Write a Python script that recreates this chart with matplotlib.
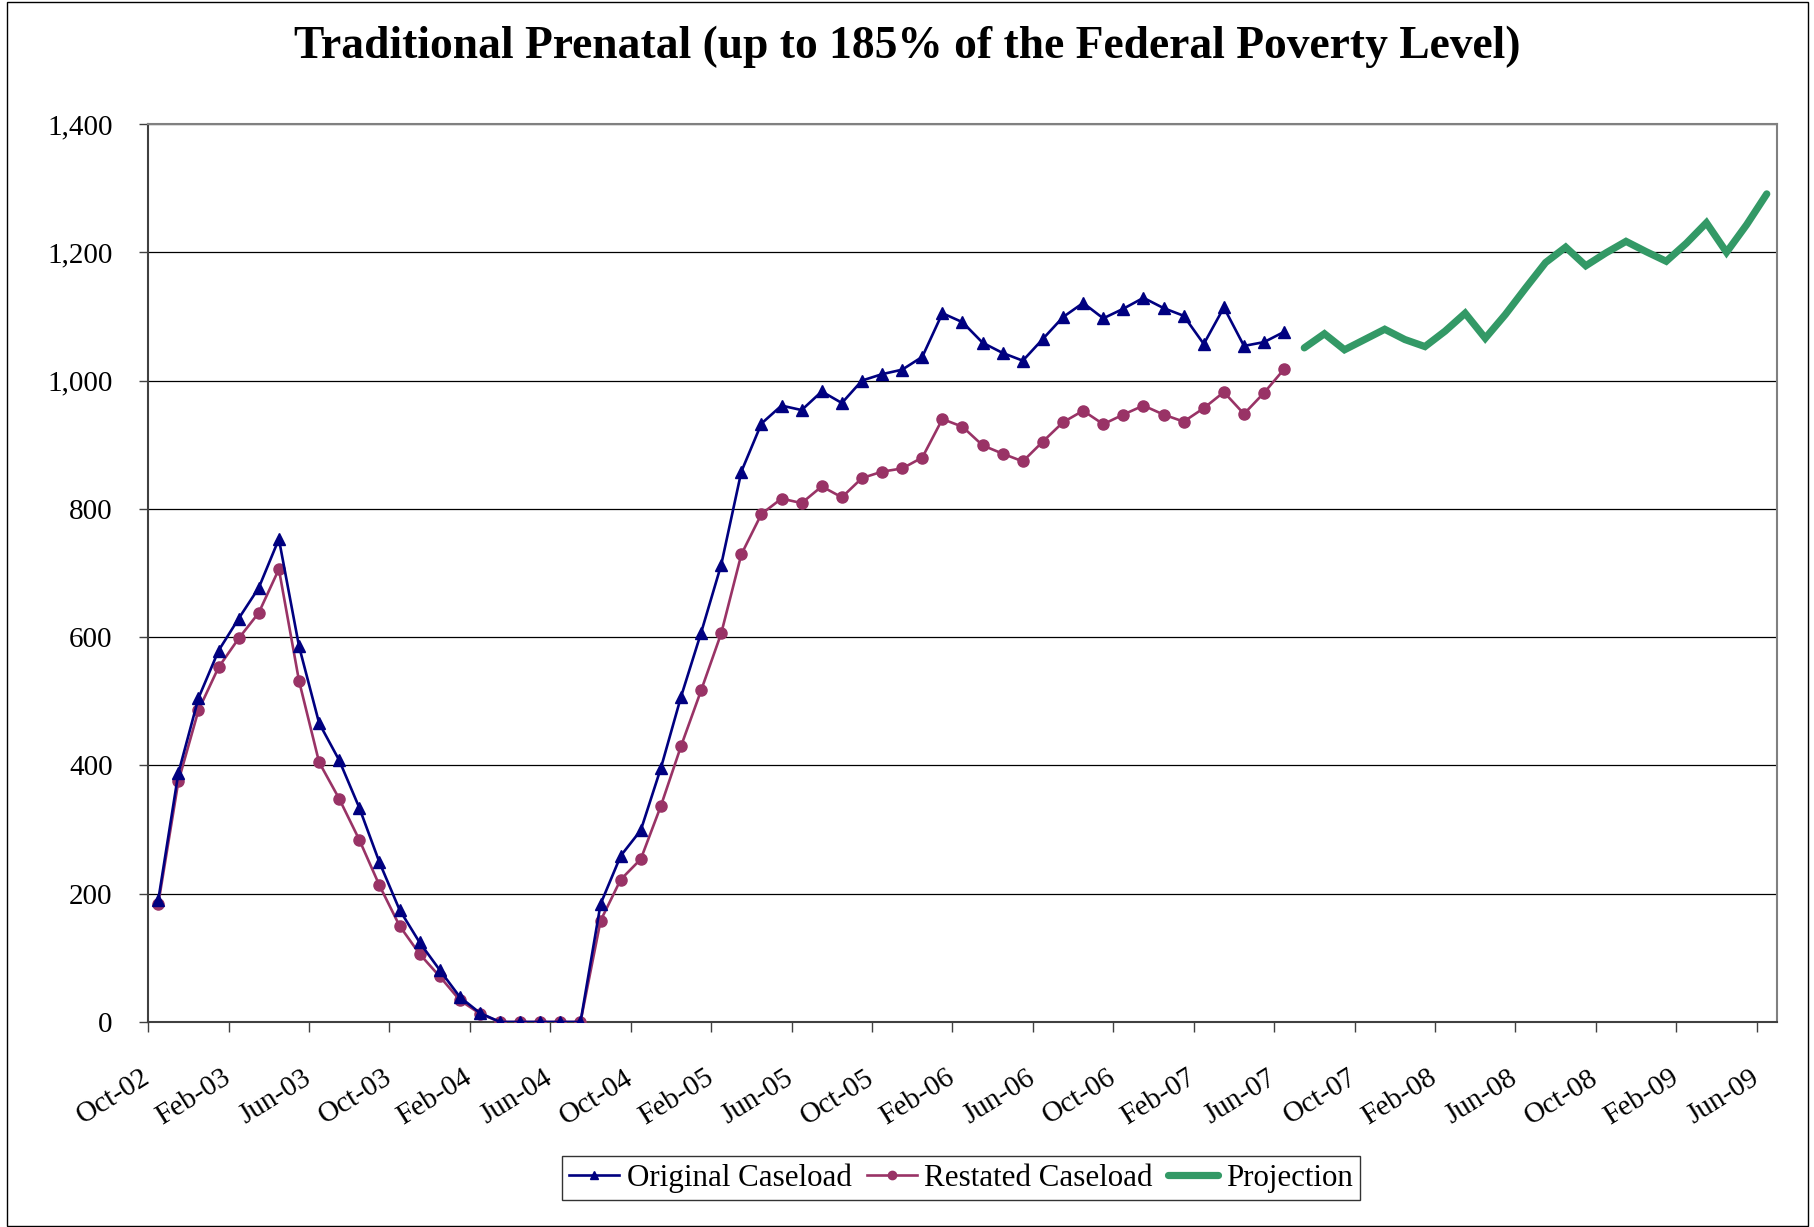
import matplotlib
matplotlib.use("Agg")
import matplotlib.pyplot as plt
import matplotlib.transforms as mtransforms
from matplotlib.patches import Rectangle
from matplotlib.ticker import FuncFormatter

# Monthly caseload, Oct-02 .. Jun-07
original = [190, 388, 505, 579, 629, 677, 753, 586, 466, 408, 334, 249, 175, 124, 81, 39, 14,
            0, 0, 0, 0, 0,
            184, 259, 299, 396, 507, 607, 713, 858, 933, 961, 954, 983, 965, 1000, 1010, 1017,
            1037, 1105, 1091, 1059, 1043, 1031, 1065, 1099, 1121, 1097, 1112, 1129, 1113, 1101,
            1057, 1114, 1054, 1060, 1076]
restated = [184, 375, 486, 553, 598, 638, 706, 532, 405, 348, 284, 213, 150, 106, 71, 34, 13,
            0, 0, 0, 0, 0,
            158, 222, 254, 337, 430, 517, 606, 729, 792, 816, 809, 835, 818, 848, 858, 863,
            880, 940, 928, 899, 886, 874, 905, 935, 953, 932, 947, 961, 947, 936,
            957, 982, 948, 981, 1018]
# Projection, Jul-07 .. Jun-09
projection = [1051, 1073, 1048, 1064, 1080, 1064, 1053, 1077, 1105, 1066, 1103, 1144,
              1184, 1208, 1179, 1199, 1217, 1201, 1186, 1214, 1246, 1200, 1243, 1291]

tick_labels = ["Oct-02", "Feb-03", "Jun-03", "Oct-03", "Feb-04", "Jun-04", "Oct-04",
               "Feb-05", "Jun-05", "Oct-05", "Feb-06", "Jun-06", "Oct-06", "Feb-07",
               "Jun-07", "Oct-07", "Feb-08", "Jun-08", "Oct-08", "Feb-09", "Jun-09"]

n_months = len(original) + len(projection)

plt.rcParams['font.family'] = ['Liberation Serif', 'DejaVu Serif']

W, H = 1815, 1227
fig = plt.figure(figsize=(W / 100, H / 100), dpi=100)
fig.patch.set_facecolor("white")
fig.patches.append(Rectangle((7 / W, 1 / H), (1808 - 7) / W, (1225 - 1) / H,
                             transform=fig.transFigure, fill=False,
                             edgecolor="black", linewidth=1.0))

ax = fig.add_axes([148.2 / W, 1 - 1022 / H, (1776.8 - 148.2) / W, (1022 - 124) / H])

x_orig = list(range(len(original)))
x_proj = list(range(len(original), n_months))

ax.plot(x_orig, original, color="#000080", linewidth=1.9, marker="^",
        markersize=8, label="Original Caseload", zorder=4)
ax.plot(x_orig, restated, color="#993366", linewidth=1.9, marker="o",
        markersize=8, label="Restated Caseload", zorder=3)
ax.plot(x_proj, projection, color="#339966", linewidth=5.2,
        solid_capstyle="round", solid_joinstyle="miter", label="Projection", zorder=3)

ax.set_xlim(-0.5, n_months - 0.5)
ax.set_ylim(0, 1400)
ax.set_yticks(range(0, 1401, 200))
ax.yaxis.set_major_formatter(FuncFormatter(lambda v, p: f"{int(v):,}"))
ax.grid(axis="y", color="black", linewidth=0.9)
ax.set_axisbelow(True)

ticks = [-0.5 + 4 * k for k in range(len(tick_labels))]
ax.set_xticks(ticks)
ax.set_xticklabels(tick_labels, rotation=32, ha="right", va="top",
                   rotation_mode="anchor")
ax.tick_params(axis="x", length=7.2, width=1.0, color="#404040", labelsize=21, pad=23.5)
ax.tick_params(axis="y", length=6.5, width=1.0, color="#404040", labelsize=21, pad=19.2)

# nudge the slanted month labels so their right ends sit under the ticks
shift = mtransforms.ScaledTranslation(-7 / 100, 0, fig.dpi_scale_trans)
for lbl in ax.get_xticklabels():
    lbl.set_transform(lbl.get_transform() + shift)

for side in ("top", "right"):
    ax.spines[side].set_color("#808080")
    ax.spines[side].set_linewidth(1.5)
for side in ("left", "bottom"):
    ax.spines[side].set_color("#404040")
    ax.spines[side].set_linewidth(1.5)

fig.text(0.5, 1 - 47 / H, "Traditional Prenatal (up to 185% of the Federal Poverty Level)",
         ha="center", va="center", fontsize=32.8, fontweight="bold")

leg = fig.legend(loc="center", bbox_to_anchor=(961 / W, 1 - 1178 / H), ncol=3,
                 fontsize=22.3, frameon=True, fancybox=False, edgecolor="black",
                 handlelength=1.6, handletextpad=0.25, columnspacing=0.5,
                 borderpad=0.25, borderaxespad=0)
leg.get_frame().set_linewidth(1.0)
for h in leg.legend_handles:
    if h.get_marker() not in (None, "None", ""):
        h.set_markersize(6)

fig.savefig("out.png", dpi=100, facecolor="white")
